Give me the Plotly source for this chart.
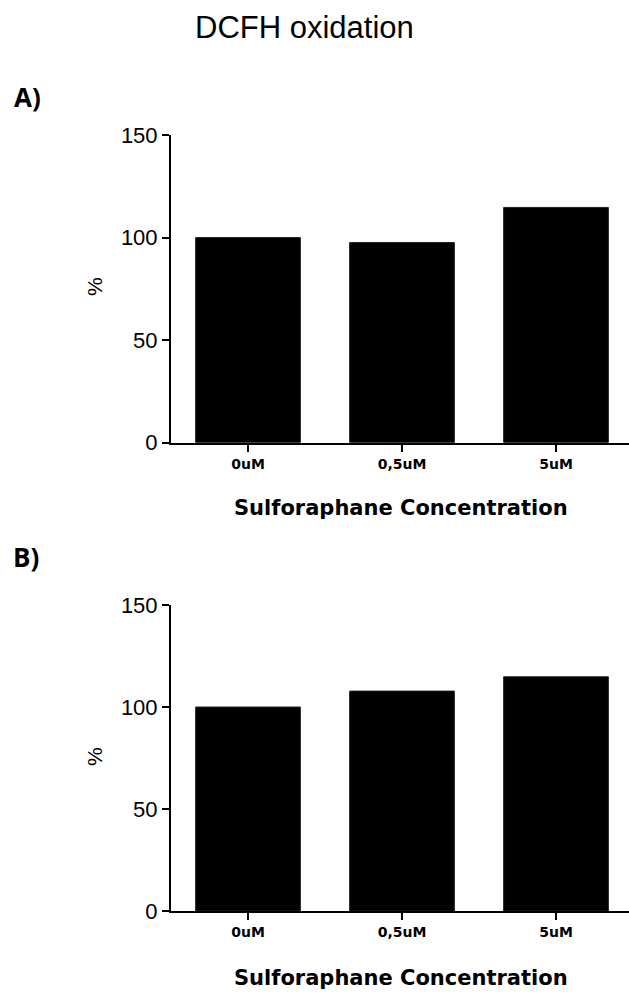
import plotly.graph_objects as go

categories = ["0uM", "0,5uM", "5uM"]
values_a = [100, 97.6, 114.7]
values_b = [100, 107.8, 114.8]
y_ticks = [0, 50, 100, 150]

W, H = 629, 995

def py(pix):
    return 1 - pix / H

fig = go.Figure()
fig.add_trace(go.Bar(x=categories, y=values_a, xaxis="x", yaxis="y",
                     marker=dict(color="black", line=dict(color="#222", width=1)),
                     width=0.68, showlegend=False))
fig.add_trace(go.Bar(x=categories, y=values_b, xaxis="x2", yaxis="y2",
                     marker=dict(color="black", line=dict(color="#222", width=1)),
                     width=0.68, showlegend=False))

xr = [-0.5, -0.5 + (629 - 171) / 154]
xdom = [171 / W, 1.0]
tickfont_x = dict(family="DejaVu Sans", size=14, color="black", weight="bold")
tickfont_y = dict(family="Liberation Sans, Arial", size=22, color="black")

common_x = dict(range=xr, domain=xdom, showline=True, linecolor="black", linewidth=2,
                ticks="outside", ticklen=7, tickwidth=2, tickcolor="black", automargin=False,
                tickfont=tickfont_x, showgrid=False, zeroline=False, fixedrange=True)
common_y = dict(range=[0, 150], tickvals=y_ticks, showline=True, linecolor="black", linewidth=2,
                ticks="outside", ticklen=7, tickwidth=2, tickcolor="black", automargin=False,
                tickfont=tickfont_y, showgrid=False, zeroline=False)

fig.update_layout(
    width=W, height=H,
    margin=dict(l=0, r=0, t=0, b=0, autoexpand=False),
    paper_bgcolor="white", plot_bgcolor="white",
    bargap=0.32,
    xaxis=dict(anchor="y", **common_x),
    yaxis=dict(anchor="x", domain=[py(442.7), py(135)], **common_y),
    xaxis2=dict(anchor="y2", **common_x),
    yaxis2=dict(anchor="x2", domain=[py(911), py(605)], **common_y),
)

def ann(text, x, y, size, family, bold=False, angle=0):
    t = f"<b>{text}</b>" if bold else text
    fig.add_annotation(text=t, x=x / W, y=py(y), xref="paper", yref="paper",
                       showarrow=False, xanchor="center", yanchor="middle",
                       textangle=angle, font=dict(size=size, family=family, color="black"))

ann("DCFH oxidation", 304, 28, 31, "Liberation Sans, Arial")
ann("A)", 27, 97, 26, "Open Sans", bold=True)
ann("B)", 26, 557, 26, "Open Sans", bold=True)
ann("%", 94, 287, 21, "Liberation Sans, Arial", angle=-90)
ann("%", 94, 757, 21, "Liberation Sans, Arial", angle=-90)
ann("Sulforaphane Concentration", 401, 508, 21, "DejaVu Sans", bold=True)
ann("Sulforaphane Concentration", 401, 978, 21, "DejaVu Sans", bold=True)

fig.write_html("out.html")
